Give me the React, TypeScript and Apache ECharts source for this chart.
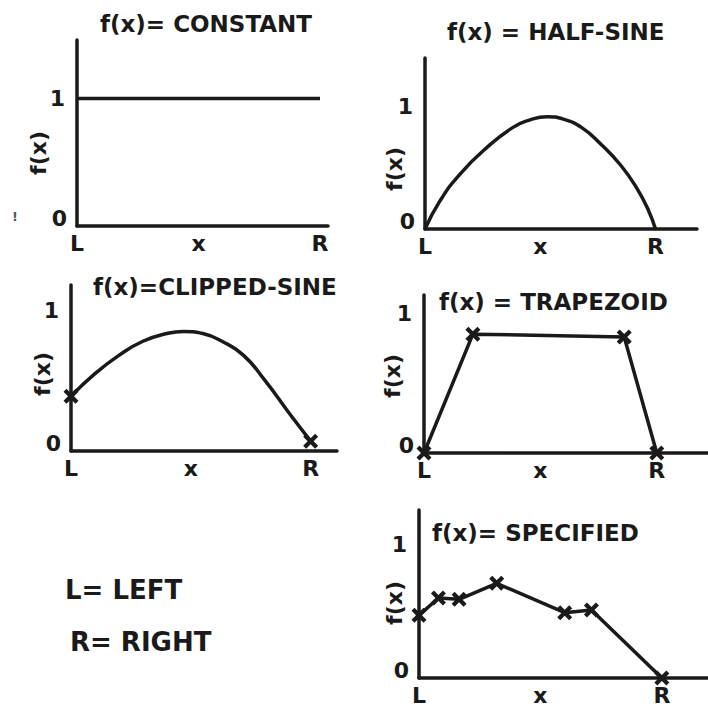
import React, { useEffect, useRef } from 'react';
import * as echarts from 'echarts';

const FONT = '"DejaVu Sans", "Liberation Sans", sans-serif';
const INK = '#1a1a1a';

// ---- text ----
const titles = ['f(x)= CONSTANT', 'f(x) = HALF-SINE', 'f(x)=CLIPPED-SINE', 'f(x) = TRAPEZOID', 'f(x)= SPECIFIED'];
const xTickValues = [0, 0.5, 1];
const xTickLabels = ['L', 'x', 'R'];
const yTickValues = [0, 1];
const yTickLabels = ['0', '1'];
const yAxisTitle = 'f(x)';
const legendLines = ['L= LEFT', 'R= RIGHT'];
const strayMark = '!';

// ---- data (x in L..R as 0..1, f(x) in 0..1) ----
const constantX = [0, 1];
const constantY = [1, 1];

const halfSineX = [0, 0.065, 0.152, 0.27, 0.38, 0.45, 0.53, 0.6, 0.68, 0.76, 0.85, 0.92, 0.97, 1];
const halfSineY = [0, 0.23, 0.45, 0.67, 0.83, 0.89, 0.92, 0.9, 0.83, 0.7, 0.52, 0.33, 0.15, 0];

const clippedX = [0, 0.1, 0.2, 0.3, 0.4, 0.47, 0.55, 0.63, 0.72, 0.81, 0.91, 1];
const clippedY = [0.39, 0.55, 0.68, 0.78, 0.835, 0.85, 0.835, 0.78, 0.68, 0.5, 0.27, 0.07];

const trapX = [0, 0.21, 0.86, 1];
const trapY = [0, 0.85, 0.83, 0];

const specX = [0, 0.08, 0.165, 0.32, 0.6, 0.71, 1];
const specY = [0.47, 0.6, 0.59, 0.71, 0.49, 0.51, 0];

// ---- layout (pixels) ----
const panels = [
  { left: 77, top: 40, width: 251, height: 186, xMax: 1.033, yMax: 1.46, title: [100, 24], yName: [38, 153] },
  { left: 425, top: 58, width: 272, height: 171, xMax: 1.18, yMax: 1.4, title: [447, 32], yName: [394, 169] },
  { left: 71, top: 285, width: 266, height: 166, xMax: 1.11, yMax: 1.18, title: [93, 287], yName: [42, 374] },
  { left: 424, top: 295, width: 284, height: 158, xMax: 1.22, yMax: 1.13, title: [439, 302], yName: [392, 376] },
  { left: 419, top: 510, width: 289, height: 168, xMax: 1.19, yMax: 1.26, title: [432, 533], yName: [394, 603] },
];

const CROSS = 'path://M0,2L2,0L5,3L8,0L10,2L7,5L10,8L8,10L5,7L2,10L0,8L3,5Z';

const pairs = (xs: number[], ys: number[]) => xs.map((x, i) => [x, ys[i]]);

function buildOption() {
  const grid = panels.map((p) => ({
    left: p.left,
    top: p.top,
    width: p.width,
    height: p.height,
    containLabel: false,
    outerBoundsMode: 'none',
  }));
  const xAxis = panels.map((p, i) => ({
    type: 'value',
    gridIndex: i,
    min: 0,
    max: p.xMax,
    interval: 0.5,
    axisLine: { show: true, lineStyle: { color: INK, width: 3.5 } },
    axisTick: { show: false },
    splitLine: { show: false },
    axisLabel: {
      show: true,
      margin: 6,
      color: INK,
      fontFamily: FONT,
      fontWeight: 'bold',
      fontSize: 22,
      showMaxLabel: false,
      formatter: (v: number) => {
        const k = xTickValues.findIndex((t) => Math.abs(t - v) < 1e-6);
        return k >= 0 ? xTickLabels[k] : '';
      },
    },
  }));
  const yAxis = panels.map((p, i) => ({
    type: 'value',
    gridIndex: i,
    min: 0,
    max: p.yMax,
    interval: 1,
    axisLine: { show: true, lineStyle: { color: INK, width: 3.5 } },
    axisTick: { show: false },
    splitLine: { show: false },
    axisLabel: {
      show: true,
      margin: 8,
      color: INK,
      fontFamily: FONT,
      fontWeight: 'bold',
      fontSize: 22,
      showMaxLabel: false,
      formatter: (v: number) => {
        const k = yTickValues.findIndex((t) => Math.abs(t - v) < 1e-6);
        if (k < 0) return '';
        return k === 0 ? `{z|${yTickLabels[k]}}` : `{o|${yTickLabels[k]}}`;
      },
      rich: {
        z: { fontFamily: FONT, fontWeight: 'bold', fontSize: 22, color: INK, padding: [0, 2, 16, 0] },
        o: { fontFamily: FONT, fontWeight: 'bold', fontSize: 22, color: INK, padding: [0, 4, 0, 0] },
      },
    },
  }));

  const lineBase = {
    type: 'line',
    lineStyle: { color: INK, width: 3.5 },
    itemStyle: { color: INK, opacity: 1 },
    z: 3,
  };
  const series: any[] = [
    { ...lineBase, xAxisIndex: 0, yAxisIndex: 0, showSymbol: false, data: pairs(constantX, constantY) },
    { ...lineBase, xAxisIndex: 1, yAxisIndex: 1, showSymbol: false, smooth: 0.5, data: pairs(halfSineX, halfSineY) },
    { ...lineBase, xAxisIndex: 2, yAxisIndex: 2, showSymbol: false, smooth: 0.5, data: pairs(clippedX, clippedY) },
    {
      type: 'scatter',
      xAxisIndex: 2,
      yAxisIndex: 2,
      symbol: CROSS,
      symbolSize: 15,
      itemStyle: { color: INK, opacity: 1 },
      z: 4,
      data: [
        [clippedX[0], clippedY[0]],
        [clippedX[clippedX.length - 1], clippedY[clippedY.length - 1]],
      ],
    },
    { ...lineBase, xAxisIndex: 3, yAxisIndex: 3, showSymbol: true, symbol: CROSS, symbolSize: 15, data: pairs(trapX, trapY) },
    { ...lineBase, xAxisIndex: 4, yAxisIndex: 4, showSymbol: true, symbol: CROSS, symbolSize: 15, data: pairs(specX, specY) },
  ];

  const graphic: any[] = [];
  panels.forEach((p, i) => {
    graphic.push({
      type: 'text',
      x: p.title[0],
      y: p.title[1],
      style: {
        text: titles[i],
        fill: INK,
        font: `bold 23px ${FONT}`,
        textAlign: 'left',
        textVerticalAlign: 'middle',
      },
    });
    graphic.push({
      type: 'text',
      x: p.yName[0],
      y: p.yName[1],
      rotation: Math.PI / 2,
      style: {
        text: yAxisTitle,
        fill: INK,
        font: `bold 22px ${FONT}`,
        textAlign: 'center',
        textVerticalAlign: 'middle',
      },
    });
  });
  graphic.push({
    type: 'text',
    x: 65,
    y: 590,
    style: { text: legendLines[0], fill: INK, font: `bold 26px ${FONT}`, textAlign: 'left', textVerticalAlign: 'middle' },
  });
  graphic.push({
    type: 'text',
    x: 70,
    y: 642,
    style: { text: legendLines[1], fill: INK, font: `bold 26px ${FONT}`, textAlign: 'left', textVerticalAlign: 'middle' },
  });
  graphic.push({
    type: 'text',
    x: 15,
    y: 216,
    style: { text: strayMark, fill: '#555', font: `bold 13px ${FONT}`, textAlign: 'center', textVerticalAlign: 'middle' },
  });

  return {
    animation: false,
    backgroundColor: '#ffffff',
    grid,
    xAxis,
    yAxis,
    series,
    graphic,
  };
}

export default function App() {
  const ref = useRef<HTMLDivElement>(null);
  useEffect(() => {
    if (!ref.current) return;
    const chart = echarts.init(ref.current, null, { renderer: 'svg' });
    chart.setOption(buildOption() as any);
    return () => chart.dispose();
  }, []);
  return (
    <div
      ref={ref}
      style={{ position: 'fixed', left: 0, top: 0, width: 708, height: 714, background: '#fff' }}
    />
  );
}
